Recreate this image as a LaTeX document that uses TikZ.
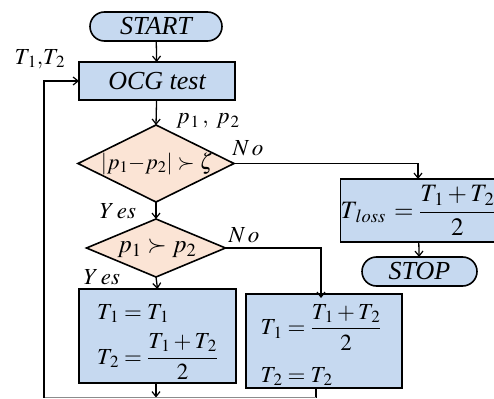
\documentclass[tikz,border=0pt]{standalone}
\usepackage{amsmath}
\usepackage{mathptmx}
\usepackage{fontspec}
\setmainfont{Liberation Serif}
\usetikzlibrary{arrows.meta,shapes.geometric,shapes.misc}
\definecolor{boxblue}{RGB}{198,217,240}
\definecolor{peach}{RGB}{251,228,213}
\newcommand{\bigfnt}{\fontsize{26}{30}\selectfont}
\newcommand{\boxfnt}{\fontsize{23}{28}\selectfont}
\newcommand{\lblfnt}{\fontsize{23}{26}\selectfont}
\newcommand{\Tsub}[1]{T_{\kern2pt #1}}
\newcommand{\Psub}[1]{p_{\kern1pt #1}}
\tikzset{
  base/.style={draw=black, line width=1.6pt, inner sep=0pt, outer sep=0pt},
  pill/.style={base, rounded rectangle, fill=boxblue, minimum height=29pt, font=\bigfnt\itshape},
  procbox/.style={base, rectangle, fill=boxblue},
  dia/.style={base, diamond, fill=peach},
  conn/.style={line width=1.3pt, -{Straight Barb[length=5pt,width=8pt,line width=1.2pt]}},
  plain/.style={line width=1.3pt},
  lbl/.style={font=\lblfnt, inner sep=0pt},
  mtxt/.style={inner sep=0pt, align=left},
}
\begin{document}
\begin{tikzpicture}[x=1pt,y=-1pt]
\useasboundingbox (0,0) rectangle (494,398);
% nodes
\node[pill, minimum width=132pt] (start) at (156,26.5) {START};
\node[procbox, minimum width=156pt, minimum height=38pt, font=\bigfnt\itshape] (ocg) at (157,81) {OCG test};
\node[dia, minimum width=156pt, minimum height=77pt] (d1) at (156,163.5) {};
\node[mtxt, font=\fontsize{22}{26}\selectfont] (d1t) at ([xshift=1pt]d1.center) {$\vert p_1{-}p_2\vert\succ\zeta$};
\node[dia, minimum width=139pt, minimum height=58pt] (d2) at (156,248) {};
\node[mtxt, font=\fontsize{25}{28}\selectfont] (d2t) at ([xshift=1pt]d2.center) {$p_1\succ p_2$};
\node[procbox, minimum width=151pt, minimum height=63pt, font=\fontsize{25}{28}\selectfont] (tloss) at (418,210.5) {$T_{\kern3pt loss}\,=\dfrac{\Tsub{1}+\Tsub{2}}{2}$};
\node[pill, minimum width=115pt] (stop) at (419.5,271.5) {STOP};
\node[procbox, minimum width=157pt, minimum height=94pt] (box1) at (157.5,336) {};
\node[mtxt, font=\boxfnt] (box1t) at ([yshift=-6pt]box1.center) {$\Tsub{1}=\Tsub{1}$\\[10pt]$\Tsub{2}=\dfrac{\Tsub{1}+\Tsub{2}}{2}$};
\node[procbox, minimum width=156pt, minimum height=94pt] (box2) at (324,341) {};
\node[mtxt, font=\boxfnt] (box2t) at ([xshift=-3pt,yshift=-4pt]box2.center) {$\Tsub{1}=\dfrac{\Tsub{1}+\Tsub{2}}{2}$\\[16pt]$\Tsub{2}=\Tsub{2}$};
% labels
\node[lbl] (lt) at (40,59) {$\Tsub{1}{,}\Tsub{2}$};
\node[lbl] (lp) at (208,121) {$\Psub{1}\,,\;\Psub{2}$};
\node[lbl] (no1) at (248,148) {$N\,o$};
\node[lbl] (yes1) at (118,211) {$Y\,es$};
\node[lbl] (no2) at (244,235) {$N\,o$};
\node[lbl] (yes2) at (102,277) {$Y\,es$};
% coordinates for the cut-off loop at the bottom
\coordinate (bl) at (44,397.5);
\coordinate (bm) at (156,397.5);
\coordinate (br) at (316,397.5);
% connectors
\draw[conn] (start) -- (ocg);
\draw[conn] (ocg) -- (d1.north);
\draw[conn] (d1.east) -| (tloss.north);
\draw[conn] (tloss) -- (stop);
\draw[conn] (d1.south) -- (d2.north);
\draw[conn] (d2.east) -| ([xshift=-3pt,yshift=-4pt]box2.north);
\draw[conn] (d2.south) -- (box1.north);
\draw[conn] (box1.south -| bm) -- (bm);
\draw[plain] (box2.south -| br) -- (br);
\draw[line width=1.2pt, black!45] (br) -- (bl);
\draw[conn] (bl) |- (ocg.west);
\end{tikzpicture}
\end{document}
